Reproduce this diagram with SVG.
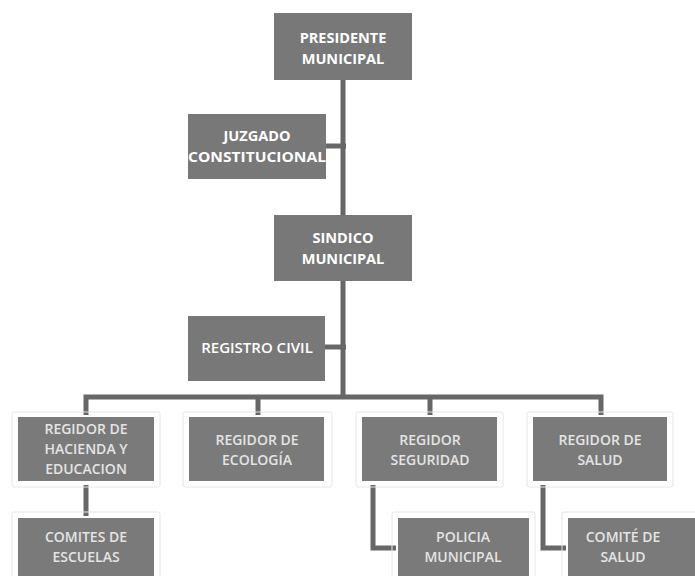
<svg xmlns="http://www.w3.org/2000/svg" width="695" height="576" viewBox="0 0 695 576">
<style>
.box{fill:#787878}
.sub{fill:#7a7a7a;stroke:#ffffff;stroke-width:2}
.frame{fill:none;stroke:#e6e6e6;stroke-width:1}
.t{font-family:"Open Sans","Liberation Sans",sans-serif;font-weight:bold;font-size:14.5px;fill:#ffffff;text-anchor:middle}
.s{font-family:"Open Sans","Liberation Sans",sans-serif;font-weight:600;font-size:14px;fill:#e4e4e4;text-anchor:middle}
.c{fill:none;stroke:#676767;stroke-width:5}
</style>
<rect width="695" height="576" fill="#ffffff"/>
<g id="connectors">
<path class="c" d="M343,80 V397"/>
<path class="c" d="M326,146 H346"/>
<path class="c" d="M325,347 H346"/>
<path class="c" d="M86,415 V397 H601 V415"/>
<path class="c" d="M258,397 V415"/>
<path class="c" d="M430,397 V415"/>
<path class="c" d="M86,485 V517"/>
<path class="c" d="M373,485 V548 H397"/>
<path class="c" d="M543,485 V548 H567"/>
</g>
<g id="presidente">
<rect class="box" x="274" y="13" width="138" height="67"/>
<text class="t" x="343" y="43">PRESIDENTE</text>
<text class="t" x="343" y="64">MUNICIPAL</text>
</g>
<g id="juzgado">
<rect class="box" x="188" y="114" width="138" height="65"/>
<text class="t" x="257" y="141">JUZGADO</text>
<text class="t" x="257" y="162" textLength="138" lengthAdjust="spacingAndGlyphs">CONSTITUCIONAL</text>
</g>
<g id="sindico">
<rect class="box" x="274" y="215" width="138" height="66"/>
<text class="t" x="343" y="243">SINDICO</text>
<text class="t" x="343" y="264">MUNICIPAL</text>
</g>
<g id="registro">
<rect class="box" x="188" y="316" width="137" height="65"/>
<text class="t" x="257" y="353" style="font-weight:600;font-size:15px">REGISTRO CIVIL</text>
</g>
<g id="hacienda">
<rect class="frame" x="12" y="412" width="148" height="75" rx="2"/>
<rect class="sub" x="17" y="416" width="138" height="66"/>
<text class="s" x="86" y="434">REGIDOR DE</text>
<text class="s" x="86" y="454">HACIENDA Y</text>
<text class="s" x="86" y="474">EDUCACION</text>
</g>
<g id="ecologia">
<rect class="frame" x="183" y="412" width="149" height="75" rx="2"/>
<rect class="sub" x="188" y="416" width="137" height="66"/>
<text class="s" x="257" y="445">REGIDOR DE</text>
<text class="s" x="257" y="465">ECOLOGÍA</text>
</g>
<g id="seguridad">
<rect class="frame" x="356" y="412" width="147" height="75" rx="2"/>
<rect class="sub" x="361" y="416" width="137" height="66"/>
<text class="s" x="430" y="445">REGIDOR</text>
<text class="s" x="430" y="465">SEGURIDAD</text>
</g>
<g id="salud">
<rect class="frame" x="527" y="412" width="146" height="75" rx="2"/>
<rect class="sub" x="532" y="416" width="136" height="66"/>
<text class="s" x="600" y="445">REGIDOR DE</text>
<text class="s" x="600" y="465">SALUD</text>
</g>
<g id="comites">
<rect class="frame" x="12" y="512" width="148" height="75" rx="2"/>
<rect class="sub" x="17" y="517" width="138" height="66"/>
<text class="s" x="86" y="542">COMITES DE</text>
<text class="s" x="86" y="562">ESCUELAS</text>
</g>
<g id="policia">
<rect class="frame" x="392" y="512" width="143" height="75" rx="2"/>
<rect class="sub" x="397" y="517" width="133" height="66"/>
<text class="s" x="463" y="542">POLICIA</text>
<text class="s" x="463" y="562">MUNICIPAL</text>
</g>
<g id="comite-salud">
<rect class="frame" x="562" y="512" width="140" height="75" rx="2"/>
<rect class="sub" x="567" y="517" width="133" height="66"/>
<text class="s" x="623" y="542">COMITÉ DE</text>
<text class="s" x="623" y="562">SALUD</text>
</g>
</svg>
